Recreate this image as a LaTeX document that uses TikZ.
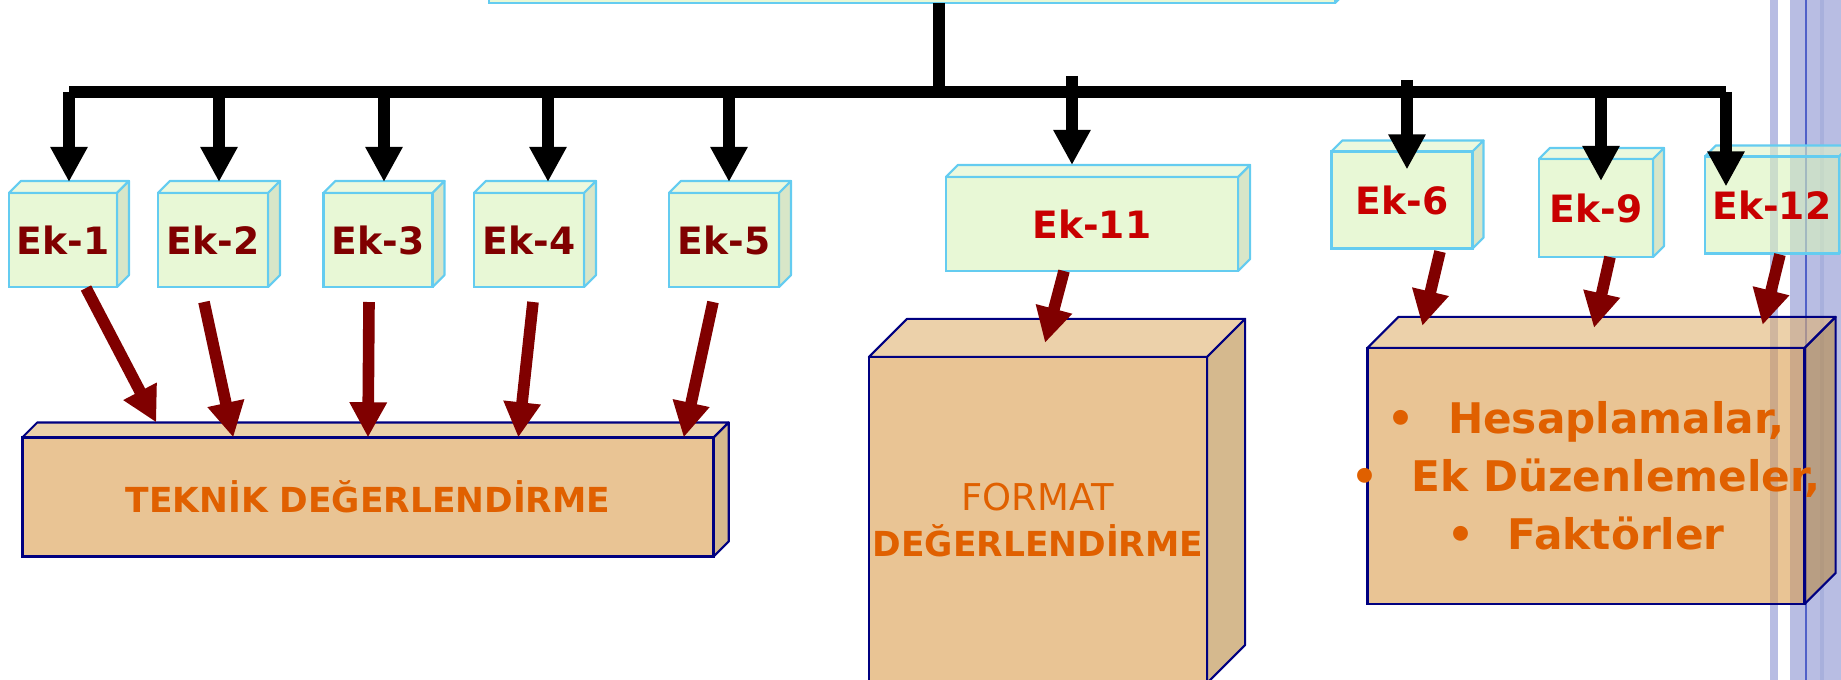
\documentclass[tikz,border=0pt]{standalone}
\usepackage{fontspec}
\setmainfont{DejaVu Sans}
\usepackage{xcolor}
\usetikzlibrary{arrows.meta,calc,backgrounds}
\pgfdeclarelayer{stripes}
\pgfsetlayers{stripes,background,main}

% fills are laid at 60% opacity, so these give the seen colours over white
\definecolor{ekfill}{RGB}{217,243,187}
\definecolor{ektop}{RGB}{223,245,200}
\definecolor{ekside}{RGB}{190,213,163}
\definecolor{ekline}{RGB}{100,204,240}
\definecolor{ekdark}{RGB}{128,0,0}
\definecolor{ekred}{RGB}{200,0,0}
\definecolor{boxfill}{RGB}{218,157,77}
\definecolor{boxtop}{RGB}{224,178,113}
\definecolor{boxside}{RGB}{185,138,67}
\definecolor{boxline}{RGB}{0,0,128}
\definecolor{orangetxt}{RGB}{224,96,0}
\definecolor{band}{RGB}{184,189,227}
\definecolor{banddark}{RGB}{168,176,220}
\definecolor{bandline}{RGB}{80,96,200}

% top and right faces of a box node, kept behind the node text: name, depth, top fill, side fill, edge colour
\newcommand{\cubesides}[5]{%
  \begin{scope}[on background layer]
  \filldraw[fill=#3, fill opacity=0.6, draw=#5, line width=0.6pt, line join=round]
    (#1.north west) -- ++(#2,-#2) -- ($(#1.north east)+(#2,-#2)$) -- (#1.north east) -- cycle;
  \filldraw[fill=#4, fill opacity=0.6, draw=#5, line width=0.6pt, line join=round]
    (#1.north east) -- ++(#2,-#2) -- ($(#1.south east)+(#2,-#2)$) -- (#1.south east) -- cycle;
  \end{scope}
}
% a bullet line that may run over the box edge
\newcommand{\bulletline}[1]{\makebox[0pt]{\textbullet\hspace{0.8em}#1}}

\begin{document}
\begin{tikzpicture}[
  x=0.01cm, y=-0.01cm,
  ek/.style={draw=ekline, fill=ekfill, fill opacity=0.6, text opacity=1, line width=0.6pt, inner sep=0pt, outer sep=0pt, minimum height=0.94cm, font=\fontsize{10.7}{12}\selectfont\bfseries},
  big/.style={draw=boxline, fill=boxfill, fill opacity=0.6, text opacity=1, line width=0.7pt, inner sep=0pt, outer sep=0pt, text=orangetxt, align=center},
  bus/.style={line width=3.3pt},
  drop/.style={line width=3.3pt, -{Triangle[length=10pt,width=10pt]}},
  feed/.style={line width=3.3pt, draw=ekdark, -{Triangle[length=10pt,width=10pt]}}]

\useasboundingbox (0,0) rectangle (1841,680);

% slide stripes on the right, under everything
\begin{pgfonlayer}{stripes}
\fill[band] (1770,0) rectangle (1778,680);
\fill[band] (1790,0) rectangle (1841,680);
\fill[banddark] (1820,0) rectangle (1824,680);
\fill[bandline] (1805,0) rectangle (1807,680);
\end{pgfonlayer}

% top box, mostly above the page
\node[ek, minimum width=8.46cm, minimum height=0.6cm] (root) at (912,-27) {};
\cubesides{root}{12}{ektop}{ekside}{ekline}

% annexes
\node[ek, text=ekdark, minimum width=1.08cm] (ek1) at (63,240) {Ek-1};
\node[ek, text=ekdark, minimum width=1.10cm] (ek2) at (213,240) {Ek-2};
\node[ek, text=ekdark, minimum width=1.09cm] (ek3) at (378,240) {Ek-3};
\node[ek, text=ekdark, minimum width=1.10cm] (ek4) at (529,240) {Ek-4};
\node[ek, text=ekdark, minimum width=1.10cm] (ek5) at (724,240) {Ek-5};
\node[ek, text=ekred, minimum width=2.92cm] (ek11) at (1092,224) {Ek-11};
\node[ek, text=ekred, minimum width=1.41cm, minimum height=0.97cm] (ek6) at (1402,200) {Ek-6};
\node[ek, text=ekred, minimum width=1.14cm, minimum height=0.98cm] (ek9) at (1596,208) {Ek-9};
\node[ek, text=ekred, minimum width=1.34cm, minimum height=0.97cm] (ek12) at (1772,205) {Ek-12};
\foreach \n in {ek1,ek2,ek3,ek4,ek5,ek11} {\cubesides{\n}{12}{ektop}{ekside}{ekline}}
\foreach \n in {ek6,ek9,ek12} {\cubesides{\n}{11}{ektop}{ekside}{ekline}}

% evaluations
\node[big, minimum width=6.91cm, minimum height=1.19cm, font=\fontsize{9.8}{12}\selectfont\bfseries] (tek) at (368,497) {TEKNİK DEĞERLENDİRME};
\node[big, minimum width=3.38cm, minimum height=3.26cm, font=\fontsize{9.8}{13.1}\selectfont] (fmt) at (1038,520) {{\fontsize{10.5}{13.1}\selectfont FORMAT}\\\textbf{DEĞERLENDİRME}};
\node[big, minimum width=4.37cm, minimum height=2.56cm, font=\fontsize{12}{16.5}\selectfont\bfseries] (hes) at (1586,476) {\bulletline{Hesaplamalar,}\\\bulletline{Ek Düzenlemeler,}\\\bulletline{Faktörler}};
\cubesides{tek}{15}{boxtop}{boxside}{boxline}
\cubesides{fmt}{38}{boxtop}{boxside}{boxline}
\cubesides{hes}{31}{boxtop}{boxside}{boxline}

% black distribution bus
\coordinate (bar) at (939,92);
\foreach \n/\dx/\dy in {ek1/6/-11, ek2/6/-11, ek3/6/-11, ek4/19/-11, ek5/5/-11, ek11/-20/-12, ek6/5/18, ek9/5/22, ek12/-46/30}
  \coordinate (\n-t) at ($(\n.north)+(\dx,\dy)$);
\draw[bus] (root.south -| bar) -- (bar);
\draw[bus] (ek1-t |- bar) -- (ek12-t |- bar);
\foreach \n in {ek1,ek2,ek3,ek4,ek5,ek9,ek12} \draw[drop] (\n-t |- bar) -- (\n-t);
\draw[drop] ($(ek11-t |- bar)+(0,-16)$) -- (ek11-t);
\draw[drop] ($(ek6-t |- bar)+(0,-12)$) -- (ek6-t);

% annexes into evaluations
\draw[feed] ($(ek1.south)+(23,1)$) -- ($(tek.north west)+(134,-15)$);
\draw[feed] ($(ek2.south)+(-9,15)$) -- ($(tek.north west)+(211,0)$);
\draw[feed] ($(ek3.south)+(-9,15)$) -- (tek.north);
\draw[feed] ($(ek4.south)+(4,15)$) -- ($(tek.north west)+(496,0)$);
\draw[feed] ($(ek5.south)+(-11,15)$) -- ($(tek.north east)+(-30,0)$);
\draw[feed] ($(ek11.south)+(-28,0)$) -- ($(fmt.north)+(7,-14)$);
\draw[feed] ($(ek6.south)+(38,3)$) -- ($(hes.north west)+(55,-22)$);
\draw[feed] ($(ek9.south)+(14,0)$) -- ($(hes.north)+(8,-20)$);
\draw[feed] ($(ek12.south)+(8,1)$) -- ($(hes.north east)+(-42,-23)$);
\end{tikzpicture}
\end{document}
